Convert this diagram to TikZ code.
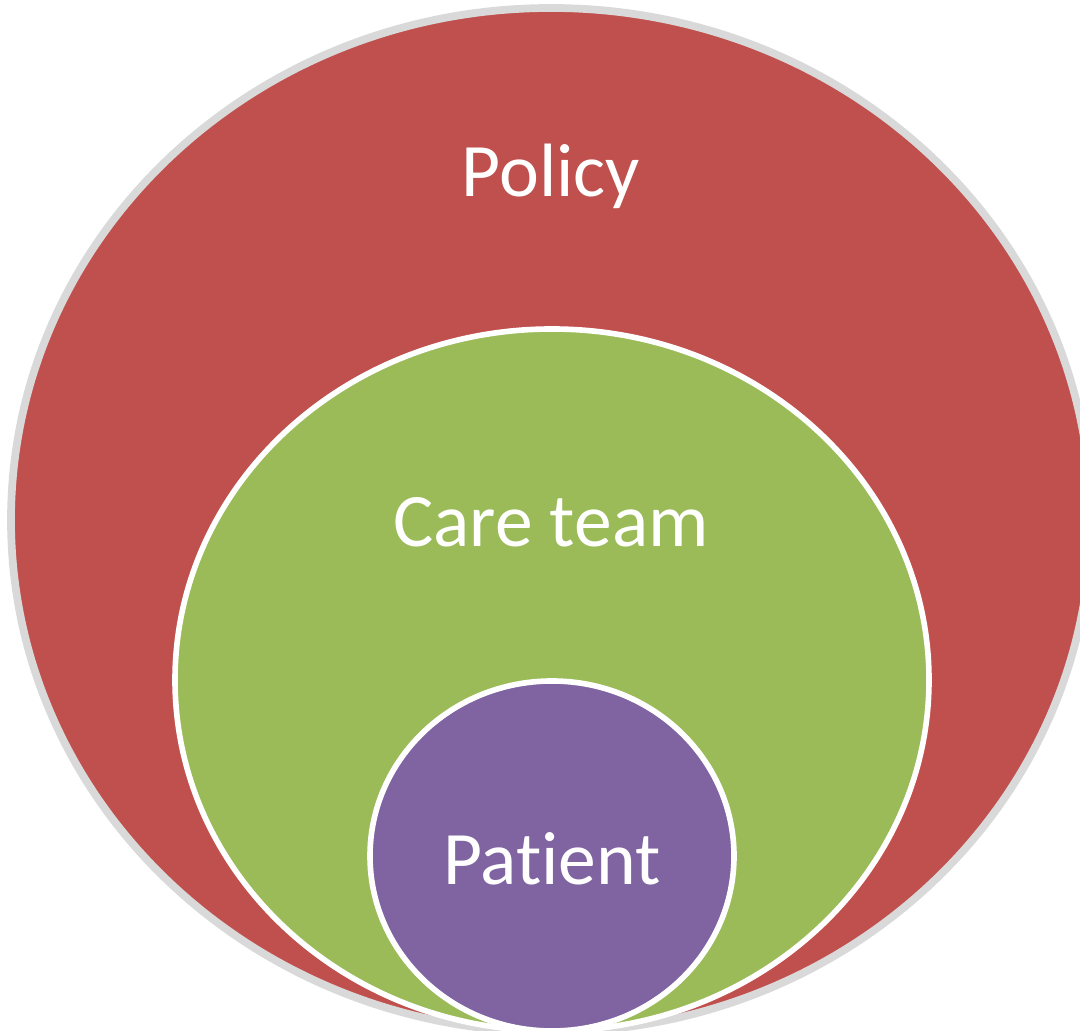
\documentclass[tikz,border=0pt]{standalone}
\usepackage{fontspec}
\setmainfont{Carlito}[Ligatures=NoCommon]
\usetikzlibrary{shapes.geometric}
\definecolor{policyred}{HTML}{C0504D}
\definecolor{teamgreen}{HTML}{9BBB59}
\definecolor{patientpurple}{HTML}{8064A2}
\begin{document}
\begin{tikzpicture}[
    ring/.style={ellipse, inner sep=0pt},
    ringtext/.style={anchor=base, text=white, font=\fontsize{21.5}{26}\selectfont}]
    \useasboundingbox (0,0) rectangle (10.80,10.31);

    \node[ring, fill=policyred, draw=gray!30, line width=2.2pt,
          minimum width=10.80cm, minimum height=10.24cm] (policy) at (5.51,5.11) {};
    \node[ring, fill=teamgreen, draw=white, line width=1.6pt,
          minimum width=7.54cm, minimum height=7.02cm] (team) at (5.52,3.51) {};
    \node[ring, fill=patientpurple, draw=white, line width=1.6pt,
          minimum width=3.64cm, minimum height=3.50cm] (patient) at (5.52,1.75) {};

    \node[ringtext] (policylabel) at (5.51,8.34) {Policy};
    \node[ringtext] (teamlabel) at (5.51,4.84) {Care team};
    \node[ringtext] (patientlabel) at (5.52,1.46) {Patient};
\end{tikzpicture}
\end{document}
